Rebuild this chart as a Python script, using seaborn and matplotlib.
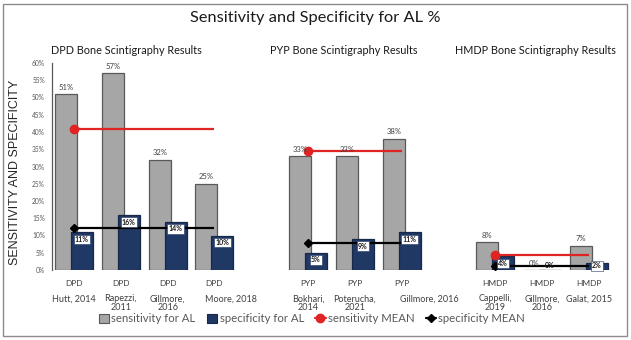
import numpy as np
import pandas as pd
import matplotlib
matplotlib.use("Agg")
import matplotlib.pyplot as plt
import seaborn as sns
from matplotlib.lines import Line2D
from matplotlib.patches import Patch, Rectangle
from matplotlib.ticker import FuncFormatter

sns.set_theme(style="white")
plt.rcParams['font.family'] = ['Lato', 'DejaVu Sans']

# ---------------- data ----------------
panel_titles = ["DPD Bone Scintigraphy Results", "PYP Bone Scintigraphy Results",
                "HMDP Bone Scintigraphy Results"]
tracers = ["DPD", "DPD", "DPD", "DPD", "PYP", "PYP", "PYP", "HMDP", "HMDP", "HMDP"]
studies = ["Hutt, 2014", "Rapezzi,\n2011", "Gillmore,\n2016", "Moore, 2018",
           "Bokhari,\n2014", "Poterucha,\n2021", "Gillmore, 2016",
           "Cappelli,\n2019", "Gillmore,\n2016", "Galat, 2015"]
group_of = [0, 0, 0, 0, 1, 1, 1, 2, 2, 2]
sensitivity = [51, 57, 32, 25, 33, 33, 38, 8, 0, 7]
specificity = [11, 16, 14, 10, 5, 9, 11, 4, 0, 2]
sens_mean = [41, 34.5, 4.3]
spec_mean = [12.3, 7.9, 1.3]
yticks = list(range(0, 61, 5))

# ---------------- style ----------------
GRAY = "#A6A6A6"
GRAY_EDGE = "#595959"
NAVY = "#1F3864"
NAVY_EDGE = "#172849"
RED = "#E02424"
TXT = "#404040"

# layout helpers (not data)
study_dx = {3: 0.35, 6: 0.6}
off = 0.17
bw = 0.47

pos = np.arange(len(tracers)) + np.array(group_of)
df = pd.DataFrame({"pos": pos, "sens": sensitivity, "spec": specificity,
                   "tracer": tracers, "study": studies, "grp": group_of})

W, H = 631, 340
fig = plt.figure(figsize=(W / 100, H / 100), dpi=100)

ax_left_px, ax_right_px = 52, 620
ax_bot_px, ax_top_px = 270, 63
ax = fig.add_axes([ax_left_px / W, (H - ax_bot_px) / H,
                   (ax_right_px - ax_left_px) / W, (ax_bot_px - ax_top_px) / H])

unit = 46.8
x0 = -(74 - ax_left_px) / unit
x1 = x0 + (ax_right_px - ax_left_px) / unit

sns.barplot(x=df["pos"] - off, y=df["sens"], native_scale=True, width=bw,
            color=GRAY, saturation=1, edgecolor=GRAY_EDGE, linewidth=0.9,
            errorbar=None, ax=ax, zorder=2)
sns.barplot(x=df["pos"] + off, y=df["spec"], native_scale=True, width=bw,
            color=NAVY, saturation=1, edgecolor=NAVY_EDGE, linewidth=0.9,
            errorbar=None, ax=ax, zorder=2)

# mean lines
for g in range(3):
    sub = df[df["grp"] == g]
    xs = [sub["pos"].min(), sub["pos"].max()]
    ax.plot(xs, [sens_mean[g]] * 2, color=RED, lw=1.6, marker="o", ms=6,
            markevery=[0], zorder=4, solid_capstyle="butt")
    ax.plot(xs, [spec_mean[g]] * 2, color="black", lw=1.6, marker="D", ms=4,
            markevery=[0], zorder=4, solid_capstyle="butt")

# value labels
for p, s, c in zip(pos, sensitivity, specificity):
    ax.text(p - off, s + 2.0, f"{s}%", ha="center", va="center",
            fontsize=5.5, color=TXT, zorder=6)
    box = dict(boxstyle="square,pad=0.18", fc="white", ec=NAVY, lw=0.4) if c > 0 else None
    ax.text(p + off, max(c - 2.1, 1.2), f"{c}%", ha="center", va="center",
            fontsize=5, color="#1a1a1a", fontweight="bold", zorder=7,
            bbox=box)

# category labels
for i, (p, t, st) in enumerate(zip(pos, tracers, studies)):
    ax.annotate(t, xy=(p, 0), xycoords=("data", "axes fraction"),
                xytext=(0, -9.4), textcoords="offset points",
                ha="center", va="center", fontsize=6, color=TXT)
    ax.annotate(st, xy=(p + study_dx.get(i, 0), 0),
                xycoords=("data", "axes fraction"),
                xytext=(0, -17.5), textcoords="offset points",
                ha="center", va="top", fontsize=6.5, color=TXT,
                linespacing=0.95)

ax.set_xlim(x0, x1)
ax.set_ylim(0, 60)
ax.set_xticks([])
ax.set_yticks(yticks)
ax.yaxis.set_major_formatter(FuncFormatter(lambda v, _: f"{int(v)}%"))
ax.tick_params(axis="y", length=0, pad=5, labelsize=4.8, labelcolor="#595959")
ax.set_xlabel("")
ax.set_ylabel("")
for side in ["top", "right", "bottom"]:
    ax.spines[side].set_visible(False)
ax.spines["left"].set_color("#595959")
ax.spines["left"].set_linewidth(0.9)
ax.set_facecolor("none")
ax.grid(False)

# titles
fig.text(315 / W, 1 - 18 / H, "Sensitivity and Specificity for AL %",
         ha="center", va="center", fontsize=11.8, color="#1a1a1a")
for cx, t in zip([126, 344, 535], panel_titles):
    fig.text(cx / W, 1 - 50 / H, t, ha="center", va="center", fontsize=7.8,
             color="#1a1a1a")
fig.text(15 / W, 1 - 172 / H, "SENSITIVITY AND SPECIFICITY", rotation=90,
         ha="center", va="center", fontsize=9, color="#262626",
         family=["Liberation Sans", "DejaVu Sans"])

# legend
handles = [Patch(fc=GRAY, ec=GRAY_EDGE, lw=0.8),
           Patch(fc=NAVY, ec=NAVY_EDGE, lw=0.8),
           Line2D([], [], color=RED, lw=1.6, marker="o", ms=6),
           Line2D([], [], color="black", lw=1.6, marker="D", ms=4)]
labels = ["sensitivity for AL", "specificity for AL", "sensitivity MEAN",
          "specificity MEAN"]
fig.legend(handles, labels, loc="center", bbox_to_anchor=(312 / W, 1 - 319 / H),
           ncol=4, frameon=False, fontsize=8.2, handlelength=0.9,
           handleheight=0.8, handletextpad=0.2, columnspacing=1.0,
           labelcolor="#595959")

# outer border
fig.patches.append(Rectangle((3 / W, 4 / H), 624 / W, 332 / H,
                             transform=fig.transFigure, fill=False,
                             ec="#8c8c8c", lw=1.0))

fig.savefig("out.png", dpi=100)
